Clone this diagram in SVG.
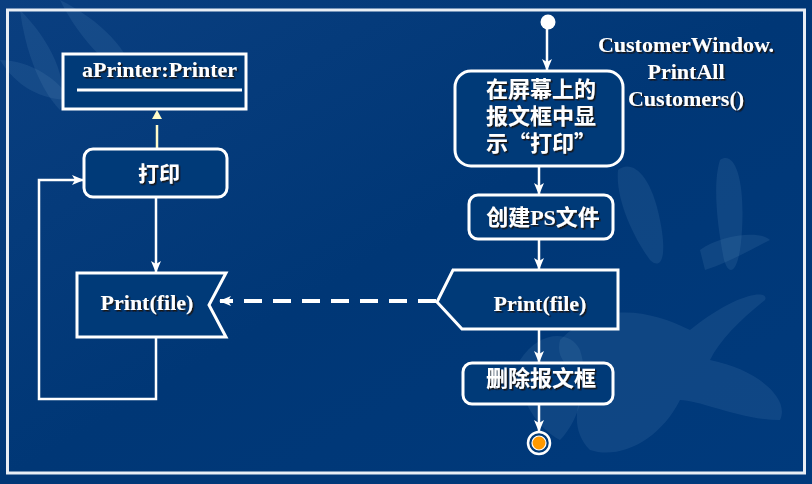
<svg xmlns="http://www.w3.org/2000/svg" width="812" height="484" viewBox="0 0 812 484">
<defs>
<linearGradient id="bg" x1="0" y1="0" x2="1" y2="1">
<stop offset="0" stop-color="#0a3f80"/>
<stop offset="0.5" stop-color="#003776"/>
<stop offset="1" stop-color="#003a7c"/>
</linearGradient>
<filter id="sh" x="-10%" y="-20%" width="130%" height="150%">
<feDropShadow dx="1.5" dy="1.5" stdDeviation="0.3" flood-color="#1a0a00" flood-opacity="0.85"/>
</filter>
<marker id="ah" markerUnits="userSpaceOnUse" markerWidth="12" markerHeight="12" viewBox="0 0 12 12" refX="11" refY="6" orient="auto">
<path d="M0,1 L12,6 L0,11 L3,6 Z" fill="#ffffff"/>
</marker>
<style>
.box{fill:#003a78;stroke:#ffffff;stroke-width:3}
.ln{fill:none;stroke:#ffffff;stroke-width:2.5}
.t{fill:#ffffff;font-family:"Liberation Serif","Noto Sans CJK SC",serif;font-weight:bold;filter:url(#sh)}
.cjk{fill:#ffffff;font-family:"Noto Sans CJK SC","Liberation Serif",serif;font-weight:bold;filter:url(#sh)}
.lily{fill:#6a9cc8;opacity:0.14}
</style>
</defs>
<rect x="0" y="0" width="812" height="484" fill="url(#bg)"/>
<g id="background">
<path class="lily" d="M20,10 C50,40 70,80 60,110 C40,90 25,50 20,10 Z"/>
<path class="lily" d="M60,0 C100,20 130,50 135,80 C110,70 80,40 60,0 Z"/>
<path class="lily" d="M0,60 C30,60 60,80 70,100 C40,100 15,85 0,60 Z"/>
<path class="lily" d="M618,170 C630,160 650,170 660,220 C668,260 660,270 650,260 C635,240 615,200 618,170 Z"/>
<path class="lily" d="M720,160 C735,150 745,180 742,230 C740,270 730,280 724,260 C718,230 712,185 720,160 Z"/>
<path class="lily" d="M560,340 C600,300 650,310 690,330 C740,290 770,290 765,300 C740,320 720,340 710,360 C760,370 790,400 780,420 C740,420 700,400 680,400 C660,440 620,460 590,450 C570,430 575,400 590,380 C570,370 555,360 560,340 Z"/>
<path class="lily" d="M520,360 C540,330 570,330 580,350 C590,380 580,420 560,440 C540,430 515,400 520,360 Z"/>
<path class="lily" d="M700,250 C720,235 760,230 770,240 C750,250 730,262 705,270 Z"/>
</g>
<rect x="7.5" y="10" width="797" height="463" fill="none" stroke="#e8eef5" stroke-width="3"/>
<g id="connectors">
<line class="ln" x1="547" y1="28" x2="547" y2="70" marker-end="url(#ah)"/>
<line class="ln" x1="539" y1="167" x2="539" y2="194" marker-end="url(#ah)"/>
<line class="ln" x1="539" y1="240" x2="539" y2="269" marker-end="url(#ah)"/>
<line class="ln" x1="539" y1="330" x2="539" y2="362" marker-end="url(#ah)"/>
<line class="ln" x1="539" y1="405" x2="539" y2="431" marker-end="url(#ah)"/>
<line class="ln" x1="156" y1="198" x2="156" y2="272" marker-end="url(#ah)"/>
<path class="ln" d="M156,338 V399 H39 V180 H83" marker-end="url(#ah)"/>
<line x1="157" y1="148" x2="157" y2="125" stroke="#fffbc8" stroke-width="2.5"/>
<polygon points="152,119 162,119 157,110" fill="#fffbc8"/>
<line x1="436" y1="301" x2="220" y2="301" stroke="#ffffff" stroke-width="4" stroke-dasharray="18,11" marker-end="url(#ah)"/>
</g>
<g id="start"><circle cx="548" cy="22" r="7.5" fill="#ffffff"/></g>
<g id="printer">
<rect class="box" x="63" y="54" width="183" height="55"/>
<line x1="77" y1="90" x2="242" y2="90" stroke="#ffffff" stroke-width="3"/>
<text class="t" x="82" y="77" font-size="22" textLength="155" lengthAdjust="spacingAndGlyphs">aPrinter:Printer</text>
</g>
<g id="print-act">
<rect class="box" x="84" y="149" width="143" height="48" rx="9"/>
<text class="cjk" x="159" y="181" font-size="21" text-anchor="middle">打印</text>
</g>
<g id="print-recv">
<path class="box" d="M77,273 H226 L209,305 L226,337 H77 Z"/>
<text class="t" x="147" y="310" font-size="22" text-anchor="middle">Print(file)</text>
</g>
<g id="show-box">
<rect class="box" x="455" y="71" width="168" height="95" rx="16"/>
<text class="cjk" font-size="22"><tspan x="486" y="97">在屏幕上的</tspan><tspan x="486" y="124">报文框中显</tspan><tspan x="486" y="151">示“打印”</tspan></text>
</g>
<g id="create-ps">
<rect class="box" x="469" y="195" width="144" height="44" rx="9"/>
<text class="cjk" x="543" y="225" font-size="22" text-anchor="middle">创建<tspan font-family="Liberation Serif">PS</tspan>文件</text>
</g>
<g id="print-send">
<path class="box" d="M453,270 H618 V329 H462 L437,302 Z"/>
<text class="t" x="540" y="311" font-size="22" text-anchor="middle">Print(file)</text>
</g>
<g id="delete-box">
<rect class="box" x="463" y="363" width="150" height="41" rx="9"/>
<text class="cjk" x="541" y="386" font-size="22" text-anchor="middle">删除报文框</text>
</g>
<g id="end">
<circle cx="539" cy="443" r="11" fill="#003a78" stroke="#ffffff" stroke-width="2.5"/>
<circle cx="539" cy="443" r="7" fill="#ff9900" stroke="#ffffff" stroke-width="1.2"/>
</g>
<g id="label">
<text class="t" font-size="22" text-anchor="middle"><tspan x="686" y="52">CustomerWindow.</tspan><tspan x="686" y="79">PrintAll</tspan><tspan x="686" y="106">Customers()</tspan></text>
</g>
</svg>
